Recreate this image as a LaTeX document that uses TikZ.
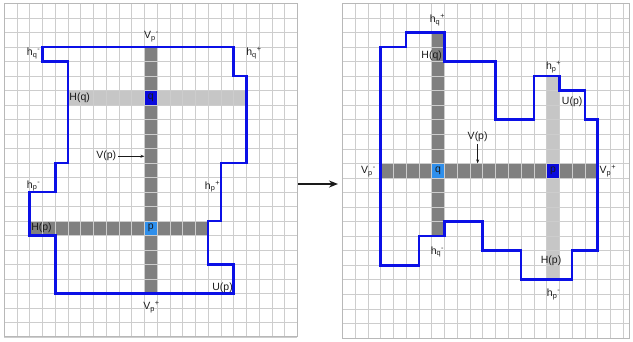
\documentclass[tikz,border=0pt]{standalone}
\usepackage{amsmath}
\usepackage{fontspec}
\setmainfont{Liberation Sans}
\usetikzlibrary{arrows.meta}
\definecolor{GridLine}{HTML}{CDCDCD}
\definecolor{FrameGray}{HTML}{B8B8B8}
\definecolor{StripDark}{HTML}{808080}
\definecolor{StripLight}{HTML}{C6C6C6}
\definecolor{PixDark}{HTML}{0A0ADC}
\definecolor{PixLight}{HTML}{2E8FEC}
\definecolor{WallBlue}{HTML}{0B10E6}
\definecolor{Ink}{HTML}{1A1A1A}

% letter with sub- and superscript
\newcommand{\hv}[3]{#1$_{\text{#2}}{}^{\text{#3}}$}

\begin{document}
\begin{tikzpicture}[
    gridln/.style={GridLine,line width=0.6pt},
    frame/.style={draw=FrameGray,line width=0.8pt},
    wall/.style={WallBlue,line width=2.6pt,line join=miter},
    lab/.style={inner sep=0pt,text=Ink,font=\fontsize{10.5}{12}\selectfont},
    tag/.style={-{Stealth[length=4pt,width=3pt]},line width=0.7pt,Ink}]
  \useasboundingbox (0,0) rectangle (633pt,-341pt);

  % left grid
  \begin{scope}[shift={(4.3pt,-3.3pt)},x=12.74pt,y=-14.5pt]
    \fill[StripLight] (5,6) rectangle (19,7);
    \fill[StripDark] (11,3) rectangle (12,20);
    \fill[StripDark] (2,15) rectangle (16,16);
    \fill[PixDark] (11,6) rectangle (12,7);
    \fill[PixLight] (11,15) rectangle (12,16);
    \foreach \i in {0,...,23}{
      \draw[gridln] (\i,0) -- (\i,23);
      \draw[gridln] (0,\i) -- (23,\i);
    }
    \draw[frame] (0,0) rectangle (23,23);
    \draw[wall] (3,3) -- (18,3) -- (18,5) -- (19,5) -- (19,11) -- (17,11)
      -- (17,15) -- (16,15) -- (16,18) -- (18,18) -- (18,20) -- (4,20)
      -- (4,16) -- (2,16) -- (2,13) -- (4,13) -- (4,11) -- (5,11)
      -- (5,4) -- (3,4) -- cycle;
    \node[lab] (lvpm) at (11.55,2.3) {\hv{V}{p}{-}};
    \node[lab] (lhqm) at (2.3,3.45) {\hv{h}{q}{-}};
    \node[lab] (lhqp) at (19.6,3.45) {\hv{h}{q}{+}};
    \node[lab,anchor=west] (lHq) at (5.1,6.5) {H(q)};
    \node[lab] (lq) at (11.5,6.5) {q};
    \node[lab] (lVp) at (8.0,10.55) {V(p)};
    \coordinate (lvtip) at (11,10.55);
    \draw[tag] ([xshift=2pt]lVp.east) -- (lvtip);
    \node[lab] (lhpm) at (2.3,12.6) {\hv{h}{p}{-}};
    \node[lab] (lhpp) at (16.35,12.65) {\hv{h}{p}{+}};
    \node[lab,anchor=west] (lHp) at (2.1,15.5) {H(p)};
    \node[lab] (lp) at (11.5,15.5) {p};
    \node[lab,anchor=east] (lUp) at (17.95,19.6) {U(p)};
    \node[lab] (lvpp) at (11.55,20.95) {\hv{V}{p}{+}};
  \end{scope}

  % right grid
  \begin{scope}[shift={(342.3pt,-3.3pt)},x=12.77pt,y=-14.55pt]
    \fill[StripLight] (16,5) rectangle (17,19);
    \fill[StripDark] (7,2) rectangle (8,16);
    \fill[StripDark] (3,11) rectangle (20,12);
    \fill[PixLight] (7,11) rectangle (8,12);
    \fill[PixDark] (16,11) rectangle (17,12);
    \foreach \i in {0,...,22}
      \draw[gridln] (\i,0) -- (\i,23);
    \foreach \j in {0,...,23}
      \draw[gridln] (0,\j) -- (22.5,\j);
    \draw[frame] (0,0) rectangle (22.5,23);
    \draw[wall] (3,3) -- (5,3) -- (5,2) -- (8,2) -- (8,4) -- (12,4)
      -- (12,8) -- (15,8) -- (15,5) -- (17,5) -- (17,6) -- (19,6)
      -- (19,8) -- (20,8) -- (20,17) -- (18,17) -- (18,19) -- (14,19)
      -- (14,17) -- (11,17) -- (11,15) -- (8,15) -- (8,16) -- (6,16)
      -- (6,18) -- (3,18) -- cycle;
    \node[lab] (rhqp) at (7.45,1.15) {\hv{h}{q}{+}};
    \node[lab] (rHq) at (7.0,3.6) {H(q)};
    \node[lab] (rVp) at (10.6,9.2) {V(p)};
    \coordinate (rvtip) at (10.6,11);
    \draw[tag] ([yshift=-2pt]rVp.south) -- (rvtip);
    \node[lab] (rvpm) at (2.05,11.55) {\hv{V}{p}{-}};
    \node[lab] (rq) at (7.5,11.5) {q};
    \node[lab] (rp) at (16.5,11.5) {p};
    \node[lab] (rvpp) at (20.8,11.55) {\hv{V}{p}{+}};
    \node[lab] (rhpp) at (16.55,4.4) {\hv{h}{p}{+}};
    \node[lab] (rUp) at (18.0,6.8) {U(p)};
    \node[lab] (rhqm) at (7.45,17.1) {\hv{h}{q}{-}};
    \node[lab] (rHp) at (16.35,17.7) {H(p)};
    \node[lab] (rhpm) at (16.55,20.0) {\hv{h}{p}{-}};
  \end{scope}

  % step between the two
  \coordinate (go) at (298pt,-184pt);
  \coordinate (to) at (338pt,-184pt);
  \draw[-{Stealth[length=9pt,width=7pt]},line width=1.6pt,Ink] (go) -- (to);
\end{tikzpicture}
\end{document}
